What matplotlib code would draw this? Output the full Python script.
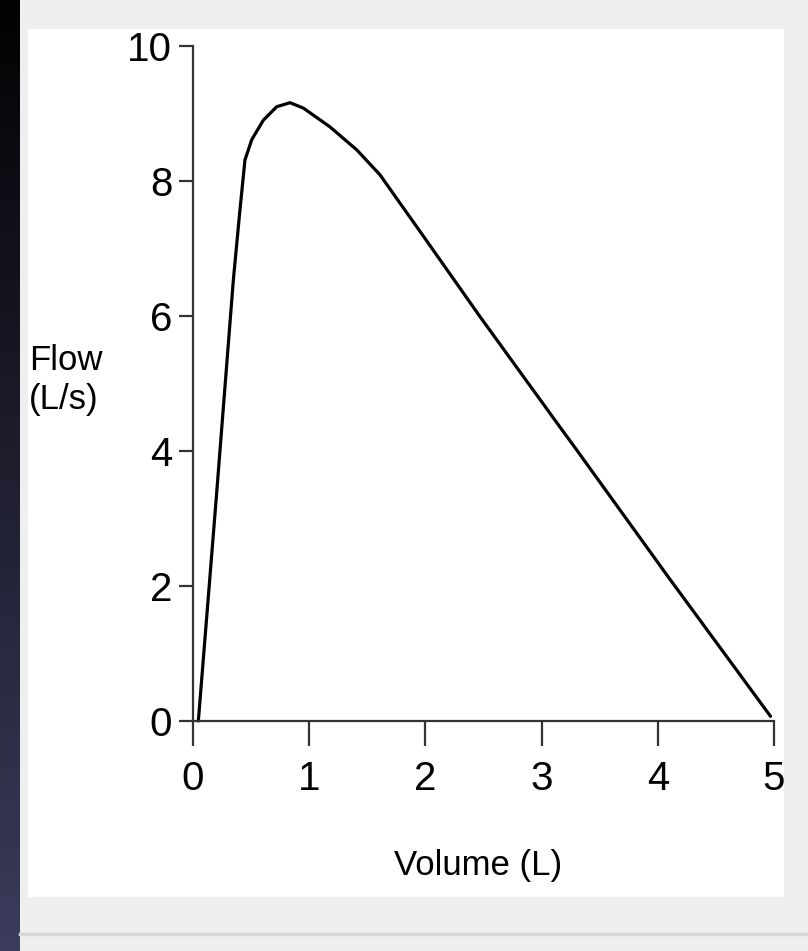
import numpy as np
import matplotlib.pyplot as plt
from matplotlib.patches import Rectangle
from matplotlib.lines import Line2D
from matplotlib.colors import LinearSegmentedColormap

# Flow-volume curve
vol = [0.046, 0.20, 0.347, 0.40, 0.447, 0.505, 0.605, 0.72, 0.835, 0.95,
       1.18, 1.41, 1.61, 1.70, 2.00, 2.47, 3.16, 3.30, 4.10, 4.97]
flow = [0.0, 3.3, 6.53, 7.5, 8.31, 8.61, 8.90, 9.10, 9.16, 9.08,
        8.80, 8.46, 8.09, 7.87, 7.14, 5.99, 4.35, 4.02, 2.11, 0.07]

xticks = [0, 1, 2, 3, 4, 5]
yticks = [0, 2, 4, 6, 8, 10]

W, H = 808, 951
plt.rcParams['font.family'] = ['Liberation Sans', 'DejaVu Sans']

fig = plt.figure(figsize=(W / 100, H / 100), dpi=100)
fig.patch.set_facecolor('#efefef')

# dark strip on the left, gradient black -> navy
strip = fig.add_axes([0, 0, 20 / W, 1])
grad = np.linspace(0, 1, 256).reshape(-1, 1)
cmap = LinearSegmentedColormap.from_list('strip', ['#020203', '#3b3b5c'])
strip.imshow(grad, aspect='auto', cmap=cmap, extent=[0, 1, 0, 1], origin='upper')
strip.axis('off')

# white panel and separator line
fig.patches.append(Rectangle((28 / W, (H - 897) / H), 756 / W, 868 / H,
                             transform=fig.transFigure, facecolor='white',
                             edgecolor='none', zorder=0))
fig.lines.append(Line2D([20 / W, 1], [(H - 934) / H] * 2, transform=fig.transFigure,
                        color='#d6d6d6', lw=2.5))

ax = fig.add_axes([193 / W, (H - 721) / H, 581 / W, 675 / H])
ax.set_zorder(5)
ax.set_facecolor('none')
ax.plot(vol, flow, color='black', lw=2.3, clip_on=False,
        solid_capstyle='round', solid_joinstyle='round')
ax.set_xlim(0, 5)
ax.set_ylim(0, 10)
ax.set_xticks(xticks)
ax.set_yticks(yticks)
ax.tick_params(direction='out', width=1.6, color='#333333', labelsize=29)
ax.tick_params(axis='x', length=18, pad=10)
ax.tick_params(axis='y', length=10, pad=5)
for s in ['top', 'right']:
    ax.spines[s].set_visible(False)
for s in ['left', 'bottom']:
    ax.spines[s].set_color('#333333')
    ax.spines[s].set_linewidth(1.6)

fig.text(478 / W, 1 - 866 / H, 'Volume (L)', fontsize=25, ha='center', va='center',
         zorder=6)
fig.text(29 / W, 1 - 380 / H, 'Flow\n(L/s)', fontsize=25, ha='left', va='center',
         linespacing=1.25, zorder=6)

fig.savefig('out.png', dpi=100, facecolor=fig.get_facecolor())
